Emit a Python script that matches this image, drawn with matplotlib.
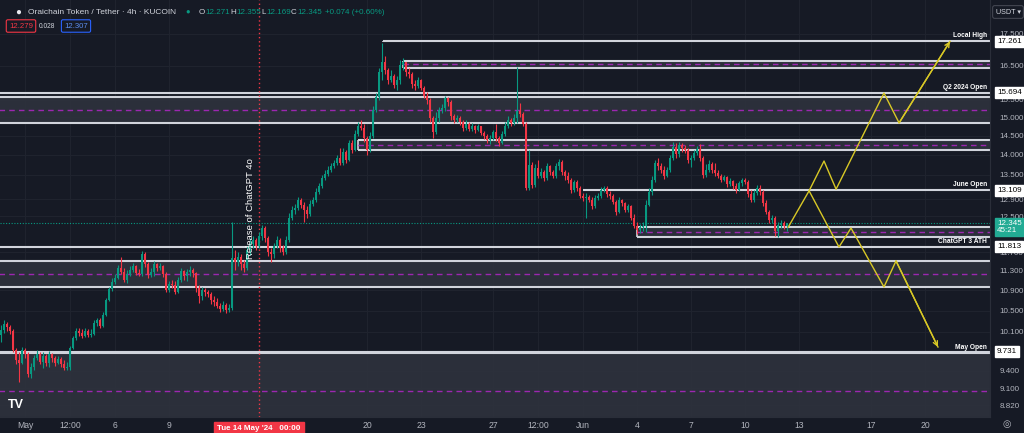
import matplotlib.pyplot as plt
import matplotlib.transforms as mtransforms
from matplotlib.ticker import NullLocator, NullFormatter
import numpy as np

plt.rcParams['font.family'] = ['Liberation Sans', 'DejaVu Sans']

# 4h candles, first candle = Apr 29 16:00 (x in days since May 1 00:00)
first_open = 10.04
closes = [10.13, 10.24, 10.19, 10.11, 9.76, 9.58, 9.54, 9.76, 9.69, 9.34,
          9.47, 9.62, 9.69, 9.56, 9.65, 9.54, 9.69, 9.62, 9.54, 9.60,
          9.52, 9.45, 9.47, 9.80, 9.99, 10.11, 10.08, 10.02, 10.11, 10.04,
          10.06, 10.26, 10.32, 10.21, 10.42, 10.71, 10.93, 11.07, 11.15, 11.36,
          11.28, 11.11, 11.24, 11.32, 11.40, 11.26, 11.24, 11.66, 11.44, 11.22,
          11.28, 11.44, 11.36, 11.40, 11.24, 10.91, 11.03, 11.01, 10.87, 11.11,
          11.30, 11.20, 11.28, 11.32, 11.26, 10.95, 10.79, 10.91, 10.87, 10.83,
          10.71, 10.67, 10.59, 10.53, 10.61, 10.51, 10.55, 11.57, 11.49, 11.59,
          11.44, 11.36, 11.74, 11.87, 11.96, 11.83, 12.05, 12.23, 12.01, 11.70,
          11.66, 11.83, 11.96, 11.78, 11.70, 11.96, 12.45, 12.64, 12.69, 12.88,
          12.76, 12.64, 12.55, 12.78, 12.88, 13.07, 13.22, 13.41, 13.51, 13.61,
          13.72, 13.80, 13.92, 13.80, 14.08, 13.87, 14.31, 14.13, 14.55, 14.77,
          14.71, 14.44, 14.13, 14.50, 15.21, 15.58, 16.31, 16.62, 16.37, 16.08,
          16.19, 15.93, 16.08, 16.53, 16.62, 16.31, 16.25, 15.96, 15.91, 16.08,
          15.85, 15.61, 15.49, 14.99, 14.61, 14.99, 15.21, 15.26, 15.55, 15.43,
          15.04, 14.93, 14.99, 14.88, 14.71, 14.82, 14.69, 14.77, 14.66, 14.77,
          14.58, 14.50, 14.39, 14.44, 14.61, 14.44, 14.31, 14.55, 14.77, 14.93,
          14.85, 14.99, 15.18, 15.10, 14.82, 13.17, 13.74, 13.24, 13.67, 13.46,
          13.56, 13.41, 13.72, 13.56, 13.46, 13.72, 13.82, 13.56, 13.46, 13.36,
          13.12, 13.31, 13.17, 12.98, 12.93, 12.95, 12.88, 12.74, 12.93, 12.98,
          13.12, 13.17, 13.02, 12.98, 12.83, 12.59, 12.88, 12.81, 12.64, 12.74,
          12.45, 12.27, 12.19, 12.25, 12.27, 12.76, 13.07, 13.36, 13.80, 13.72,
          13.61, 13.46, 13.61, 13.92, 14.21, 14.03, 14.26, 14.18, 14.13, 13.87,
          13.92, 14.05, 14.15, 13.92, 13.49, 13.61, 13.77, 13.61, 13.54, 13.46,
          13.36, 13.44, 13.26, 13.34, 13.22, 13.12, 13.29, 13.36, 13.31, 13.02,
          12.88, 13.05, 13.17, 13.07, 12.81, 12.59, 12.41, 12.45, 12.16, 12.30,
          12.34, 12.271, 12.345]
highs = [10.22, 10.32, 10.28, 10.22, 10.15, 9.80, 9.73, 9.82, 9.80, 9.73,
         9.54, 9.67, 9.76, 9.73, 9.73, 9.69, 9.75, 9.71, 9.65, 9.65,
         9.64, 9.58, 9.56, 9.83, 10.02, 10.17, 10.17, 10.15, 10.17, 10.15,
         10.15, 10.32, 10.36, 10.36, 10.47, 10.75, 10.97, 11.15, 11.24, 11.42,
         11.59, 11.36, 11.32, 11.40, 11.47, 11.42, 11.34, 11.72, 11.70, 11.49,
         11.36, 11.51, 11.47, 11.47, 11.42, 11.28, 11.09, 11.11, 11.09, 11.18,
         11.36, 11.32, 11.34, 11.40, 11.36, 11.28, 11.01, 10.97, 10.95, 10.91,
         10.87, 10.79, 10.75, 10.65, 10.69, 10.65, 10.63, 12.36, 11.74, 11.70,
         11.66, 11.53, 11.83, 12.01, 12.05, 12.01, 12.14, 12.30, 12.27, 12.05,
         11.78, 11.90, 12.05, 12.01, 11.85, 12.05, 12.57, 12.74, 12.78, 12.95,
         12.93, 12.83, 12.74, 12.88, 12.95, 13.17, 13.29, 13.49, 13.61, 13.72,
         13.80, 13.87, 14.00, 14.18, 14.18, 14.13, 14.39, 14.39, 14.66, 14.88,
         14.93, 14.82, 14.50, 14.61, 15.32, 15.69, 16.43, 17.21, 16.80, 16.43,
         16.37, 16.25, 16.19, 16.68, 16.74, 16.62, 16.43, 16.31, 16.08, 16.16,
         16.11, 15.91, 15.72, 15.55, 15.04, 15.15, 15.29, 15.38, 15.61, 15.58,
         15.49, 15.10, 15.07, 15.04, 14.93, 14.93, 14.88, 14.85, 14.79, 14.82,
         14.77, 14.63, 14.55, 14.52, 14.66, 14.82, 14.50, 14.63, 14.88, 15.04,
         14.99, 15.10, 16.47, 15.40, 15.15, 14.88, 14.13, 13.82, 13.77, 13.87,
         13.67, 13.61, 13.80, 13.74, 13.61, 13.80, 13.90, 13.87, 13.61, 13.56,
         13.41, 13.36, 13.36, 13.22, 13.05, 13.05, 13.00, 12.95, 13.00, 13.05,
         13.19, 13.22, 13.22, 13.10, 13.02, 12.88, 12.95, 12.90, 12.83, 12.78,
         12.76, 12.55, 12.36, 12.32, 12.36, 12.88, 13.17, 13.46, 13.87, 13.92,
         13.80, 13.72, 13.69, 14.00, 14.34, 14.31, 14.34, 14.31, 14.26, 14.18,
         14.00, 14.13, 14.23, 14.29, 13.97, 13.77, 13.87, 13.82, 13.80, 13.61,
         13.51, 13.49, 13.46, 13.41, 13.36, 13.29, 13.34, 13.41, 13.41, 13.36,
         13.12, 13.12, 13.24, 13.24, 13.12, 12.88, 12.64, 12.52, 12.50, 12.36,
         12.41, 12.38, 12.355]
lows = [9.91, 10.08, 10.11, 10.06, 9.73, 9.51, 9.21, 9.51, 9.62, 9.29,
        9.27, 9.41, 9.58, 9.51, 9.44, 9.49, 9.47, 9.56, 9.49, 9.51,
        9.47, 9.42, 9.42, 9.42, 9.78, 9.95, 10.02, 9.99, 10.00, 10.00,
        10.00, 10.04, 10.21, 10.17, 10.19, 10.40, 10.69, 10.89, 11.03, 11.13,
        11.24, 11.07, 11.05, 11.20, 11.28, 11.22, 11.20, 11.20, 11.38, 11.15,
        11.18, 11.20, 11.30, 11.32, 11.18, 10.87, 10.87, 10.95, 10.83, 10.85,
        11.07, 11.11, 11.09, 11.20, 11.18, 10.87, 10.65, 10.71, 10.79, 10.77,
        10.63, 10.59, 10.55, 10.47, 10.49, 10.45, 10.47, 10.51, 11.32, 11.40,
        11.32, 11.28, 11.32, 11.63, 11.78, 11.74, 11.78, 11.96, 11.92, 11.61,
        11.49, 11.57, 11.78, 11.70, 11.63, 11.66, 11.92, 12.41, 12.55, 12.64,
        12.69, 12.36, 12.45, 12.50, 12.74, 12.83, 13.02, 13.17, 13.36, 13.46,
        13.56, 13.67, 13.74, 13.74, 13.74, 13.80, 13.85, 14.05, 14.10, 14.50,
        14.66, 14.34, 14.00, 14.08, 14.44, 15.15, 15.49, 16.08, 16.25, 15.96,
        16.02, 15.85, 15.78, 15.96, 16.37, 16.19, 16.14, 15.85, 15.78, 15.85,
        15.78, 15.55, 15.38, 14.88, 14.44, 14.55, 14.88, 15.12, 15.18, 15.32,
        14.93, 14.85, 14.88, 14.79, 14.63, 14.66, 14.63, 14.63, 14.58, 14.63,
        14.52, 14.42, 14.31, 14.29, 14.39, 14.36, 14.23, 14.29, 14.50, 14.71,
        14.77, 14.79, 14.85, 15.01, 14.77, 13.12, 13.12, 13.17, 13.19, 13.41,
        13.41, 13.34, 13.36, 13.49, 13.41, 13.41, 13.61, 13.49, 13.36, 13.29,
        13.05, 13.07, 13.10, 12.93, 12.86, 12.45, 12.83, 12.67, 12.69, 12.88,
        12.93, 13.07, 12.95, 12.90, 12.78, 12.52, 12.57, 12.74, 12.59, 12.59,
        12.41, 12.23, 12.10, 12.12, 12.16, 12.14, 12.74, 13.00, 13.31, 13.61,
        13.54, 13.39, 13.44, 13.56, 13.87, 13.92, 13.95, 14.08, 14.05, 13.80,
        13.69, 13.87, 14.00, 13.85, 13.41, 13.44, 13.56, 13.54, 13.46, 13.41,
        13.31, 13.34, 13.19, 13.22, 13.14, 13.05, 13.10, 13.22, 13.26, 12.95,
        12.83, 12.83, 13.00, 13.00, 12.74, 12.55, 12.34, 12.34, 12.05, 12.03,
        12.23, 12.21, 12.169]

# levels / zones (price)
local_high = 17.261
q2_open = 15.694
june_open = 13.109
gpt3_ath = 11.813
may_open = 9.731
zones = [  # (start day, top, bottom)
    (21.0, 16.65, 16.43),
    (-2.0, 15.57, 14.84),
    (18.5, 14.39, 14.13),
    (34.0, 12.25, 12.02),
    (-2.0, 11.51, 10.96),
    (-2.0, 9.72, 8.40),
]

# projected paths
up_t = [42.4, 43.56, 44.39, 45.06, 47.72, 48.56, 51.39]
up_p = [12.25, 13.10, 13.84, 13.14, 15.69, 14.85, 17.26]
dn_t = [43.56, 45.22, 45.89, 47.72, 48.39, 50.72]
dn_p = [13.10, 11.81, 12.23, 10.97, 11.51, 9.82]

xtick_pos = [0, 2.5, 5, 8, 19, 22, 26, 28.5, 31, 34, 37, 40, 43, 47, 50]
xtick_lbl = ['May', '12:00', '6', '9', '20', '23', '27', '12:00', 'Jun',
             '4', '7', '10', '13', '17', '20']
ytick_pos = [17.5, 16.5, 15.5, 15.0, 14.5, 14.0, 13.5, 12.9, 12.5, 11.7,
             11.3, 10.9, 10.5, 10.1, 9.4, 9.1, 8.82]

BG = '#161a25'
UP = '#089981'
DN = '#f23645'
TXT = '#b2b5be'
LINE = '#d1d4dc'

closes = np.array(closes)
opens = np.concatenate([[first_open], closes[:-1]])
highs = np.maximum(np.array(highs), np.maximum(opens, closes))
lows = np.minimum(np.array(lows), np.minimum(opens, closes))
t = -4 / 3 + np.arange(len(closes)) / 6.0

fig = plt.figure(figsize=(10.24, 4.33), dpi=100, facecolor=BG)
ax = fig.add_axes([0, 16 / 433, 990 / 1024, 417 / 433], facecolor=BG)
ax.set_yscale('log')
ax.set_xlim(-25 / 18, 965 / 18)
ax.set_ylim(8.63, 18.63)

# grid
for x in xtick_pos:
    ax.axvline(x, color='#20242f', lw=0.7, zorder=0)
for y in ytick_pos:
    ax.axhline(y, color='#20242f', lw=0.7, zorder=0)

# zones
x1 = ax.get_xlim()[1]
for x0, top, bot in zones:
    ax.fill_between([x0, x1], bot, top, color='#2f333e', alpha=0.85, lw=0, zorder=1)
    ax.hlines([top, bot], x0, x1, color=LINE, lw=1.5, zorder=2)
    if x0 > 0:
        ax.vlines(x0, bot, top, color=LINE, lw=1.2, zorder=2)
    mid = (top + bot) / 2
    ax.hlines(mid, x0, x1, color='#9c27b0', lw=1.0, linestyles=(0, (4, 3)), zorder=2)

# single levels
ax.hlines(local_high, 19.9, x1, color=LINE, lw=1.5, zorder=2)
ax.vlines(19.9, local_high * 0.998, local_high, color=LINE, lw=1.2, zorder=2)
ax.hlines(q2_open, -2, x1, color=LINE, lw=1.5, zorder=2)
ax.hlines(june_open, 31.0, x1, color=LINE, lw=1.5, zorder=2)
ax.hlines(gpt3_ath, -2, x1, color=LINE, lw=1.5, zorder=2)
ax.hlines(may_open, -2, x1, color=LINE, lw=1.5, zorder=2)

lvl_kw = dict(ha='right', va='bottom', color='white', fontsize=4.8, fontweight='bold', zorder=6)
ax.text(53.45, local_high * 1.004, 'Local High', **lvl_kw)
ax.text(53.45, q2_open * 1.004, 'Q2 2024 Open', **lvl_kw)
ax.text(53.45, june_open * 1.004, 'June Open', **lvl_kw)
ax.text(53.45, gpt3_ath * 1.004, 'ChatGPT 3 ATH', **lvl_kw)
ax.text(53.45, may_open * 1.002, 'May Open', **lvl_kw)

# last price line
ax.axhline(closes[-1], color=UP, lw=0.8, linestyle=(0, (1, 1.5)), zorder=2)

# ChatGPT 4o release marker
ax.axvline(13, color=DN, lw=1.0, linestyle=(0, (1, 2)), zorder=2)
ax.text(12.55, 12.69, 'Release of ChatGPT 4o', rotation=90, ha='center', va='center',
        color='white', fontsize=6.8, zorder=6)

# candles
col = np.where(closes >= opens, UP, DN)
ax.vlines(t, lows, highs, colors=col, lw=0.8, zorder=4)
ax.bar(t, closes - opens, bottom=opens, width=0.12, color=col, lw=0, zorder=5)

# projections
yel = '#d8c826'
ax.plot(up_t, up_p, color=yel, lw=1.0, zorder=5)
ax.plot(dn_t, dn_p, color=yel, lw=1.0, zorder=5)
for tt, pp in ((up_t, up_p), (dn_t, dn_p)):
    ax.annotate('', xy=(tt[-1], pp[-1]), xytext=(tt[-2], pp[-2]),
                arrowprops=dict(arrowstyle='->', color=yel, lw=1.0,
                                mutation_scale=8, shrinkA=0, shrinkB=0), zorder=5)

# axes styling
for s in ['top', 'left']:
    ax.spines[s].set_visible(False)
ax.spines['right'].set_color('#2a2e39')
ax.spines['bottom'].set_color('#2a2e39')
ax.yaxis.tick_right()
ax.yaxis.set_minor_locator(NullLocator())
ax.yaxis.set_minor_formatter(NullFormatter())
ax.set_yticks(ytick_pos)
ax.set_yticklabels(['%.3f' % v for v in ytick_pos])
ax.set_xticks(xtick_pos)
ax.set_xticklabels(xtick_lbl)
ax.tick_params(axis='y', length=0, pad=7, labelsize=5.8, labelcolor=TXT)
ax.tick_params(axis='x', length=0, pad=3, labelsize=6.2, labelcolor=TXT)

# price tags on the right axis
tr = mtransforms.blended_transform_factory(ax.transAxes, ax.transData)
for v in [local_high, q2_open, june_open, gpt3_ath, may_open]:
    ax.text(1.007, v, '%.3f' % v, transform=tr, ha='left', va='center', fontsize=5.8,
            color='black', clip_on=False, zorder=7,
            bbox=dict(boxstyle='square,pad=0.25', fc='white', ec='white'))
ax.text(1.007, 12.25, '%.3f\n45:21' % closes[-1], transform=tr, ha='left', va='center',
        fontsize=5.8, color='white', clip_on=False, zorder=7, linespacing=1.1,
        bbox=dict(boxstyle='square,pad=0.25', fc='#22ab94', ec='#22ab94'))

# red time tag
ax.text(13, -0.02, "Tue 14 May '24   00:00", transform=ax.get_xaxis_transform(),
        ha='center', va='top', fontsize=5.8, color='white', fontweight='bold',
        clip_on=False, zorder=7,
        bbox=dict(boxstyle='square,pad=0.45', fc=DN, ec=DN))

# header
def px(x, y):
    return x / 1024, 1 - y / 433

fig.text(*px(15, 12), '●', color='#e8eaf0', fontsize=7, va='center', ha='left')
fig.text(*px(28, 12), 'Oraichain Token / Tether · 4h · KUCOIN', color='#d1d4dc',
         fontsize=6.0, va='center', ha='left')
fig.text(*px(185, 12), '●', color=UP, fontsize=5.5, va='center', ha='left')
hdr = [(199, 'O', '#d1d4dc'), (205, '12.271', UP), (230, 'H', '#d1d4dc'),
       (236, '12.355', UP), (261, 'L', '#d1d4dc'), (266, '12.169', UP),
       (291, 'C', '#d1d4dc'), (297, '12.345', UP), (325, '+0.074 (+0.60%)', UP)]
for x, s, c in hdr:
    fig.text(*px(x, 12), s, color=c, fontsize=5.8, va='center', ha='left')
fig.text(*px(21, 26), '12.279', color=DN, fontsize=5.6, va='center', ha='center',
         bbox=dict(boxstyle='round,pad=0.35,rounding_size=0.2', fc=BG, ec=DN, lw=0.8))
fig.text(*px(47, 26), '0.028', color='#d1d4dc', fontsize=4.8, va='center', ha='center')
fig.text(*px(76, 26), '12.307', color='#5b8def', fontsize=5.6, va='center', ha='center',
         bbox=dict(boxstyle='round,pad=0.35,rounding_size=0.2', fc=BG, ec='#2962ff', lw=0.8))
fig.text(*px(1008, 12), 'USDT ▾', color='#d1d4dc', fontsize=5.2, va='center', ha='center',
         bbox=dict(boxstyle='round,pad=0.4,rounding_size=0.3', fc=BG, ec='#434651', lw=0.8))
fig.text(*px(16, 405), 'TV', color='white', fontsize=9, fontweight='heavy',
         va='center', ha='center')
fig.text(*px(1007, 424), '◎', color=TXT, fontsize=7, va='center', ha='center')

fig.savefig('out.png', dpi=100, facecolor=BG)
